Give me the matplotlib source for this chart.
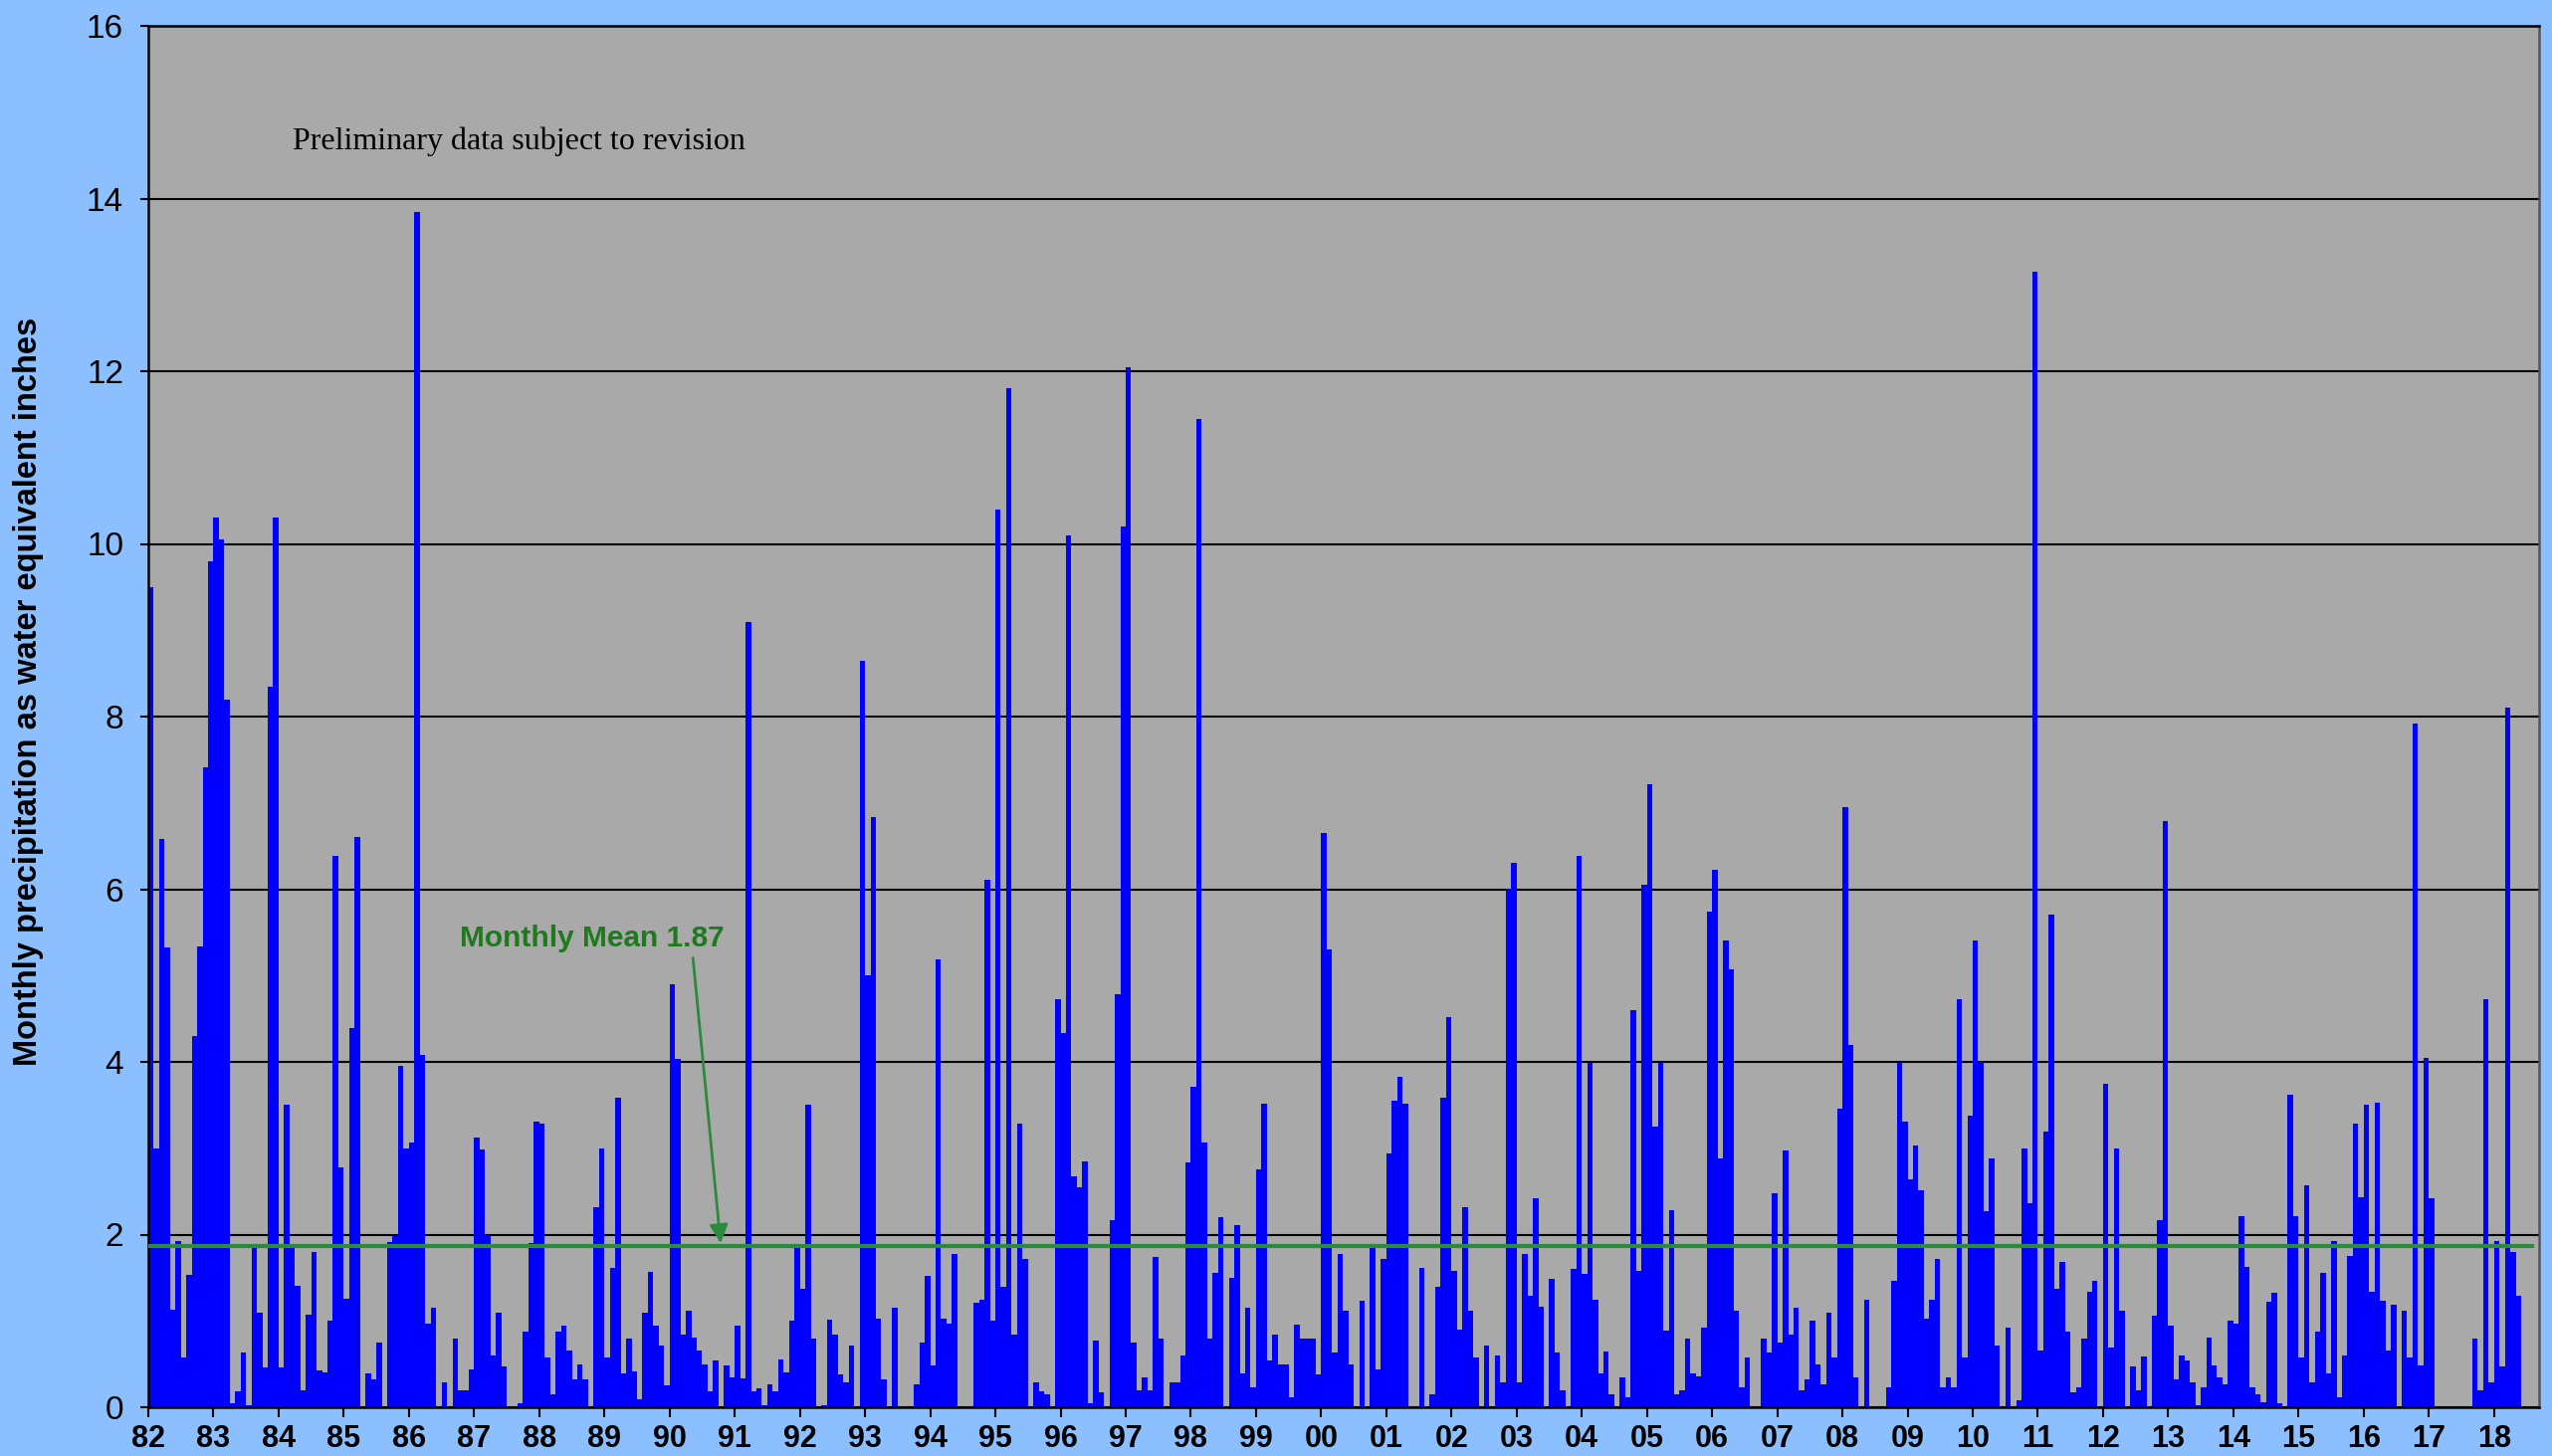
import matplotlib
matplotlib.use("Agg")
import matplotlib.pyplot as plt
import numpy as np

# monthly precipitation (water equivalent inches), Jan 1982 .. May 2018
p1982 = [9.5, 3.0, 6.58, 5.32, 1.13, 1.93, 0.58, 1.53, 4.3, 5.34, 7.41, 9.8]
p1983 = [10.3, 10.05, 8.2, 0.05, 0.18, 0.63, 0.02, 1.87, 1.09, 0.46, 8.35, 10.3]
p1984 = [0.46, 3.5, 1.84, 1.41, 0.2, 1.07, 1.8, 0.43, 0.4, 1.0, 6.39, 2.78]
p1985 = [1.26, 4.39, 6.6, 0.0, 0.39, 0.32, 0.75, 0.0, 1.91, 1.98, 3.95, 3.0]
p1986 = [3.07, 13.85, 4.08, 0.97, 1.15, 0.0, 0.29, 0.0, 0.8, 0.2, 0.2, 0.44]
p1987 = [3.12, 2.98, 2.0, 0.6, 1.09, 0.47, 0.0, 0.0, 0.05, 0.88, 1.9, 3.31]
p1988 = [3.28, 0.58, 0.15, 0.88, 0.95, 0.66, 0.32, 0.5, 0.32, 0.0, 2.32, 3.0]
p1989 = [0.58, 1.61, 3.58, 0.39, 0.8, 0.42, 0.09, 1.09, 1.57, 0.95, 0.72, 0.25]
p1990 = [4.9, 4.04, 0.84, 1.12, 0.81, 0.66, 0.5, 0.18, 0.54, 0.0, 0.48, 0.35]
p1991 = [0.95, 0.33, 9.1, 0.19, 0.22, 0.02, 0.27, 0.19, 0.55, 0.4, 1.0, 1.86]
p1992 = [1.37, 3.5, 0.8, 0.0, 0.02, 1.02, 0.84, 0.38, 0.29, 0.72, 0.0, 8.65]
p1993 = [5.0, 6.83, 1.03, 0.32, 0.0, 1.15, 0.0, 0.0, 0.0, 0.26, 0.75, 1.52]
p1994 = [0.48, 5.19, 1.03, 0.97, 1.77, 0.0, 0.01, 0.0, 1.21, 1.24, 6.11, 1.0]
p1995 = [10.4, 1.4, 11.8, 0.84, 3.28, 1.72, 0.0, 0.29, 0.18, 0.15, 0.0, 4.73]
p1996 = [4.33, 10.1, 2.67, 2.55, 2.85, 0.05, 0.77, 0.17, 0.0, 2.17, 4.78, 10.2]
p1997 = [12.05, 0.75, 0.2, 0.35, 0.2, 1.74, 0.79, 0.0, 0.29, 0.29, 0.6, 2.83]
p1998 = [3.71, 11.45, 3.07, 0.79, 1.56, 2.2, 0.0, 1.5, 2.11, 0.39, 1.15, 0.23]
p1999 = [2.75, 3.52, 0.54, 0.84, 0.5, 0.5, 0.11, 0.96, 0.8, 0.8, 0.8, 0.38]
p2000 = [6.65, 5.3, 0.63, 1.77, 1.12, 0.5, 0.0, 1.23, 0.0, 1.86, 0.44, 1.72]
p2001 = [2.94, 3.55, 3.83, 3.52, 0.01, 0.0, 1.61, 0.0, 0.15, 1.4, 3.58, 4.52]
p2002 = [1.58, 0.9, 2.32, 1.12, 0.58, 0.0, 0.72, 0.0, 0.6, 0.29, 6.01, 6.3]
p2003 = [0.29, 1.77, 1.29, 2.42, 1.16, 0.0, 1.49, 0.63, 0.2, 0.0, 1.6, 6.39]
p2004 = [1.54, 3.99, 1.24, 0.39, 0.65, 0.15, 0.0, 0.35, 0.11, 4.6, 1.58, 6.05]
p2005 = [7.22, 3.25, 3.99, 0.89, 2.28, 0.15, 0.2, 0.8, 0.39, 0.36, 0.92, 5.74]
p2006 = [6.23, 2.88, 5.41, 5.07, 1.12, 0.23, 0.58, 0.0, 0.0, 0.8, 0.63, 2.48]
p2007 = [0.75, 2.97, 0.84, 1.15, 0.2, 0.32, 1.0, 0.5, 0.27, 1.09, 0.58, 3.46]
p2008 = [6.95, 4.2, 0.35, 0.0, 1.24, 0.0, 0.0, 0.0, 0.23, 1.46, 3.99, 3.31]
p2009 = [2.64, 3.03, 2.51, 1.03, 1.24, 1.72, 0.23, 0.35, 0.23, 4.73, 0.58, 3.38]
p2010 = [5.41, 4.0, 2.27, 2.88, 0.72, 0.0, 0.92, 0.0, 0.08, 3.0, 2.36, 13.15]
p2011 = [0.66, 3.19, 5.71, 1.37, 1.68, 0.88, 0.17, 0.23, 0.8, 1.34, 1.46, 0.0]
p2012 = [3.75, 0.69, 3.0, 1.12, 0.0, 0.47, 0.2, 0.59, 0.0, 1.06, 2.17, 6.79]
p2013 = [0.95, 0.32, 0.6, 0.54, 0.29, 0.02, 0.23, 0.81, 0.48, 0.35, 0.27, 1.0]
p2014 = [0.97, 2.21, 1.62, 0.23, 0.15, 0.06, 1.22, 1.32, 0.05, 0.0, 3.62, 2.21]
p2015 = [0.58, 2.57, 0.29, 0.88, 1.56, 0.39, 1.93, 0.12, 0.6, 1.75, 3.28, 2.43]
p2016 = [3.5, 1.34, 3.53, 1.23, 0.66, 1.19, 0.0, 1.12, 0.58, 7.92, 0.48, 4.05]
p2017 = [2.42, 0.0, 0.0, 0.0, 0.0, 0.0, 0.0, 0.0, 0.8, 0.2, 4.73, 0.29]
p2018 = [1.93, 0.47, 8.1, 1.8, 1.29]

mean_precip = 1.87
year_labels = ['82', '83', '84', '85', '86', '87', '88', '89', '90', '91', '92',
               '93', '94', '95', '96', '97', '98', '99', '00', '01', '02', '03',
               '04', '05', '06', '07', '08', '09', '10', '11', '12', '13', '14',
               '15', '16', '17', '18']

precip = np.concatenate([p1982, p1983, p1984, p1985, p1986, p1987, p1988, p1989,
                         p1990, p1991, p1992, p1993, p1994, p1995, p1996, p1997,
                         p1998, p1999, p2000, p2001, p2002, p2003, p2004, p2005,
                         p2006, p2007, p2008, p2009, p2010, p2011, p2012, p2013,
                         p2014, p2015, p2016, p2017, p2018])
months = np.arange(len(precip))

W, H = 2564, 1463
fig = plt.figure(figsize=(W/100, H/100), dpi=100)
fig.patch.set_facecolor('#8cbfff')
ax = fig.add_axes([149/W, 49/H, (2551-149)/W, (1437-49)/H])
ax.set_facecolor('#aaa9aa')

ax.bar(months, precip, width=1.0, align='edge', color='#0000ff', linewidth=0, zorder=2)

# mean line across the record
line_x = np.arange(0, 440)
ax.plot(line_x, np.full(len(line_x), mean_precip), color='#2b8a3b', lw=3, zorder=3)

ax.set_xlim(0, 440.3)
ax.set_ylim(0, 16)
ax.set_yticks(np.arange(0, 17, 2))
ax.yaxis.grid(True, color='black', lw=1.5, zorder=1)
ax.set_axisbelow(True)

ax.set_xticks(np.arange(len(year_labels)) * 12)
ax.set_xticklabels(year_labels, fontfamily='Liberation Sans', fontweight='bold', fontsize=22)
ax.tick_params(axis='x', direction='out', length=7, width=1.5, pad=5, colors='black')
ax.tick_params(axis='y', direction='out', length=6, width=1.5, pad=12, labelsize=24)
for lab in ax.get_yticklabels():
    lab.set_fontfamily('Liberation Sans')

for s in ax.spines.values():
    s.set_color('black')
    s.set_linewidth(1.8)
ax.spines['right'].set_color('#555555')

fig.text(29/W, 1 - 695/H, 'Monthly precipitation as water equivalent inches',
         rotation=90, ha='center', va='center', fontsize=23.5, fontweight='bold',
         fontfamily='Liberation Sans')

ax.text(26.6, 14.66, 'Preliminary data subject to revision', fontsize=23,
        fontfamily='Liberation Serif', color='black', ha='left', va='center')

ax.annotate('Monthly Mean 1.87', xy=(105.4, 1.9), xytext=(81.7, 5.43),
            ha='center', va='center', fontsize=21.5, fontweight='bold',
            fontfamily='Liberation Sans', color='#1f7a1f',
            arrowprops=dict(arrowstyle='-|>', color='#2b8a3b', lw=2,
                            mutation_scale=28, relpos=(0.88, 0.0),
                            shrinkA=2, shrinkB=0))

fig.savefig('out.png', dpi=100, facecolor=fig.get_facecolor())
